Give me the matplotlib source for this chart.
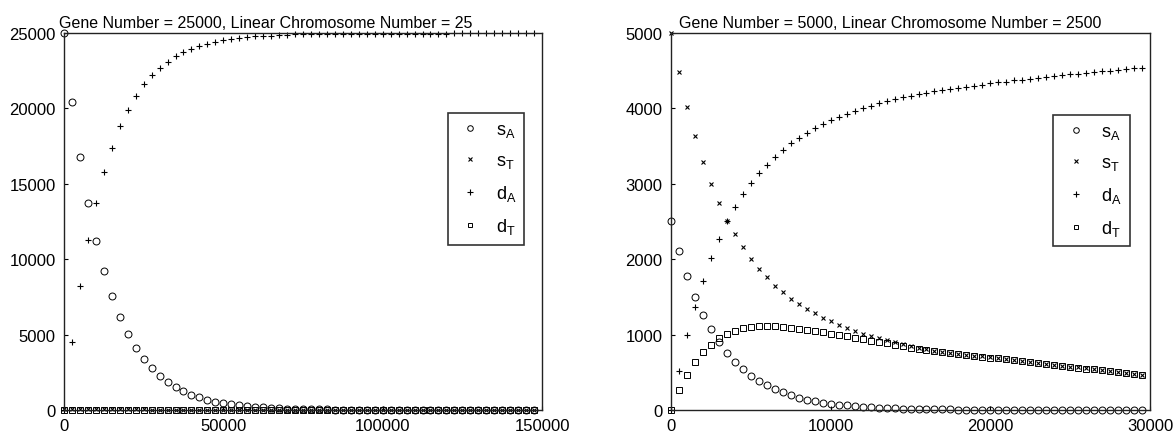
import numpy as np
import matplotlib
matplotlib.use("Agg")
import matplotlib.pyplot as plt

plt.rcParams['font.family'] = ['Liberation Sans', 'DejaVu Sans']
plt.rcParams['mathtext.fontset'] = 'custom'
plt.rcParams['mathtext.rm'] = 'Liberation Sans'
plt.rcParams['mathtext.it'] = 'Liberation Sans'
plt.rcParams['mathtext.default'] = 'regular'

# ---------------- data ----------------
titles = ["Gene Number = 25000, Linear Chromosome Number = 25",
          "Gene Number = 5000, Linear Chromosome Number = 2500"]
labels = [r"$s_A$", r"$s_T$", r"$d_A$", r"$d_T$"]

x_left = np.arange(0, 150000, 2500)
left_sA = [25000, 20450, 16750, 13700, 11230, 9200, 7530, 6170, 5050, 4130,
           3380, 2770, 2270, 1860, 1520, 1245, 1020, 835, 685, 560,
           460, 375, 308, 252, 206, 169, 138, 113, 93, 76,
           62, 51, 42, 34, 28, 23, 19, 15, 12, 10,
           8, 7, 6, 5, 4, 3, 3, 2, 2, 2,
           1, 1, 1, 1, 1, 0, 0, 0, 0, 0]
left_sT = [50, 48, 46, 44, 42, 41, 39, 38, 36, 35,
           34, 32, 31, 30, 29, 28, 27, 26, 25, 24,
           23, 22, 21, 20, 20, 19, 18, 18, 17, 16,
           16, 15, 15, 14, 14, 13, 13, 12, 12, 12,
           11, 11, 10, 10, 10, 9, 9, 9, 9, 8,
           8, 8, 8, 7, 7, 7, 7, 7, 6, 6]
left_dA = [0, 4500, 8200, 11250, 13700, 15750, 17400, 18800, 19900, 20850,
           21600, 22200, 22700, 23100, 23450, 23750, 23950, 24150, 24300, 24420,
           24520, 24600, 24670, 24720, 24770, 24800, 24830, 24860, 24880, 24900,
           24910, 24920, 24925, 24930, 24935, 24940, 24945, 24948, 24950, 24952,
           24954, 24956, 24958, 24960, 24961, 24962, 24963, 24964, 24965, 24966,
           24967, 24968, 24969, 24970, 24970, 24971, 24971, 24972, 24972, 24973]
left_dT = [0, 4, 7, 10, 12, 14, 15, 16, 17, 18,
           18, 19, 19, 19, 19, 19, 19, 19, 18, 18,
           18, 18, 17, 17, 17, 17, 16, 16, 16, 16,
           15, 15, 15, 15, 14, 14, 14, 14, 13, 13,
           13, 13, 12, 12, 12, 12, 12, 11, 11, 11,
           11, 11, 10, 10, 10, 10, 10, 10, 9, 9]

x_right = np.arange(0, 30000, 500)
right_sA = [2500, 2110, 1780, 1500, 1265, 1070, 900, 760, 640, 540,
            455, 385, 325, 275, 232, 195, 165, 139, 117, 99,
            84, 71, 60, 50, 42, 36, 30, 25, 21, 18,
            15, 13, 11, 9, 8, 7, 6, 5, 4, 3,
            3, 2, 2, 2, 1, 1, 1, 1, 1, 1,
            0, 0, 0, 0, 0, 0, 0, 0, 0, 0]
right_sT = [5000, 4480, 4020, 3630, 3290, 2995, 2745, 2510, 2330, 2155,
            2005, 1875, 1760, 1650, 1560, 1472, 1400, 1340, 1282, 1224,
            1176, 1127, 1083, 1048, 1012, 977, 950, 924, 898, 873,
            850, 827, 806, 785, 770, 757, 745, 733, 722, 711,
            700, 688, 676, 663, 650, 638, 625, 613, 600, 588,
            576, 564, 552, 540, 528, 516, 504, 492, 480, 469]
right_dA = [0, 520, 990, 1370, 1710, 2010, 2270, 2500, 2690, 2860,
            3005, 3140, 3255, 3360, 3453, 3537, 3612, 3674, 3736, 3797,
            3846, 3886, 3930, 3966, 4001, 4032, 4070, 4100, 4125, 4150,
            4170, 4190, 4210, 4225, 4240, 4255, 4270, 4285, 4300, 4315,
            4330, 4345, 4355, 4370, 4380, 4395, 4405, 4420, 4430, 4440,
            4450, 4460, 4470, 4480, 4490, 4500, 4510, 4520, 4530, 4540]
right_dT = [0, 260, 465, 632, 765, 867, 950, 1003, 1048, 1083,
            1100, 1108, 1110, 1108, 1102, 1092, 1079, 1065, 1050, 1034,
            1012, 995, 977, 959, 940, 920, 902, 884, 858, 843,
            828, 812, 795, 779, 765, 752, 740, 728, 717, 706,
            695, 683, 671, 659, 647, 635, 622, 610, 598, 586,
            574, 562, 550, 538, 526, 514, 502, 490, 478, 467]

left_xticks = [0, 50000, 100000, 150000]
left_yticks = [0, 5000, 10000, 15000, 20000, 25000]
right_xticks = [0, 10000, 20000, 30000]
right_yticks = [0, 1000, 2000, 3000, 4000, 5000]

# ---------------- figure ----------------
fig = plt.figure(figsize=(11.76, 4.39), dpi=100)
ax1 = fig.add_axes([0.0544, 0.0638, 0.4065, 0.8588])
ax2 = fig.add_axes([0.5706, 0.0638, 0.4073, 0.8588])

styles = [dict(marker='o', ms=5.0, mfc='none', mec='black', mew=0.7),
          dict(marker='x', ms=3.0, mfc='none', mec='black', mew=0.8),
          dict(marker='+', ms=5.0, mfc='none', mec='black', mew=0.8),
          dict(marker='s', ms=4.0, mfc='none', mec='black', mew=0.7)]

panels = [
    (ax1, x_left, [left_sA, left_sT, left_dA, left_dT], left_xticks, left_yticks,
     (0, 150000), (0, 25000), titles[0], 0.423, (0.963, 0.787)),
    (ax2, x_right, [right_sA, right_sT, right_dA, right_dT], right_xticks, right_yticks,
     (0, 30000), (0, 5000), titles[1], 0.457, (0.958, 0.7825)),
]

for ax, xs, series, xt, yt, xl, yl, title, tx, lpos in panels:
    for ys, st, lab in zip(series, styles, labels):
        ax.plot(xs, ys, linestyle='none', label=lab, clip_on=False, **st)
    ax.set_xlim(*xl)
    ax.set_ylim(*yl)
    ax.set_xticks(xt)
    ax.set_yticks(yt)
    ax.set_xticklabels([str(v) for v in xt])
    ax.set_yticklabels([str(v) for v in yt])
    ax.tick_params(direction='in', length=3, width=0.8, labelsize=12, pad=6,
                   top=False, right=False)
    for sp in ax.spines.values():
        sp.set_linewidth(1.0)
        sp.set_color('#222222')
    ax.set_title(title, fontsize=11.5, x=tx, pad=4)
    leg = ax.legend(loc='upper right', bbox_to_anchor=lpos, frameon=True,
                    fancybox=False, edgecolor='black', fontsize=13,
                    labelspacing=0.72, handlelength=1.6, handletextpad=0.6,
                    borderpad=0.45, markerscale=0.8, borderaxespad=0.0)
    leg.get_frame().set_linewidth(1.2)

fig.savefig("out.png", dpi=100)
